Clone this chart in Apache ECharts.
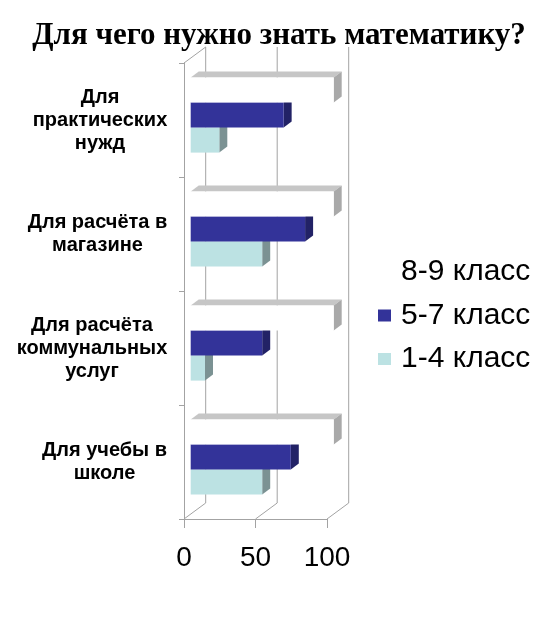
<!DOCTYPE html>
<html>
<head>
<meta charset="utf-8">
<script src="https://cdn.jsdelivr.net/npm/echarts@6/dist/echarts.min.js"></script>
<style>html,body{margin:0;padding:0;background:#fff}#c{width:558px;height:626px}</style>
</head>
<body>
<div id="c"></div>
<script>
// ---- data ----
const titleText = 'Для чего нужно знать математику?';
const categories = ['Для\nпрактических\nнужд', 'Для расчёта в\nмагазине', 'Для расчёта\nкоммунальных\nуслуг', 'Для учебы в\nшколе'];
const seriesNames = ['8-9 класс', '5-7 класс', '1-4 класс'];
const grade89 = [100, 100, 100, 100];
const grade57 = [65, 80, 50, 70];
const grade14 = [20, 50, 10, 50];
const xTicks = [0, 50, 100];

// ---- 3D look ----
const FX = 6.7, FY = -4.9;   // bar front plane offset
const DX = 8, DY = -6;       // bar depth
const WX = 21.7, WY = -16;   // back wall offset
const LINE = '#a3a3a3';
const CAT_FONT = 20, CAT_LH = 23;

const faces = {
  '8-9 класс': { front: '#ffffff', top: '#c6c6c6', side: '#a9a9a9' },
  '5-7 класс': { front: '#333399', top: '#4a4aa8', side: '#222266' },
  '1-4 класс': { front: '#bce2e3', top: '#d3eeee', side: '#7b9293' }
};

// category label blocks: lines centred inside a block whose right edge sits near the axis
const ctx = document.createElement('canvas').getContext('2d');
ctx.font = 'bold ' + CAT_FONT + 'px "Liberation Sans"';
const rich = {};
categories.forEach(function (c, i) {
  const w = Math.ceil(Math.max.apply(null, c.split('\n').map(function (s) { return ctx.measureText(s).width; })));
  rich['c' + i] = { width: w, align: 'center', fontFamily: 'Liberation Sans', fontWeight: 'bold', fontSize: CAT_FONT, lineHeight: CAT_LH, color: '#000' };
});

function barRenderer(slot, name) {
  const f = faces[name];
  return function (params, api) {
    const v = api.value(0), c = api.value(1);
    const p0 = api.coord([0, c]), p1 = api.coord([v, c]);
    const band = api.size([0, 1])[1];
    const t = band * 25 / 114;
    const y0 = p0[1] + FY + (slot - 1.5) * t, y1 = y0 + t;
    const x0 = p0[0] + FX, x1 = p1[0] + FX;
    return {
      type: 'group',
      children: [
        { type: 'polygon', shape: { points: [[x0, y0], [x0 + DX, y0 + DY], [x1 + DX, y0 + DY], [x1, y0]] }, style: { fill: f.top } },
        { type: 'polygon', shape: { points: [[x1, y0], [x1 + DX, y0 + DY], [x1 + DX, y1 + DY], [x1, y1]] }, style: { fill: f.side } },
        { type: 'rect', shape: { x: x0, y: y0, width: x1 - x0, height: t }, style: { fill: f.front } }
      ]
    };
  };
}

function frameRenderer(params, api) {
  const cs = params.coordSys;
  const top = cs.y, bottom = cs.y + cs.height, left = cs.x;
  const children = [];
  const ls = { stroke: LINE, lineWidth: 1, fill: null };
  xTicks.forEach(function (v) {
    const x = api.coord([v, 0])[0];
    children.push({ type: 'line', shape: { x1: x + WX, y1: top + WY, x2: x + WX, y2: bottom + WY }, style: ls });
    children.push({ type: 'line', shape: { x1: x, y1: bottom, x2: x + WX, y2: bottom + WY }, style: ls });
  });
  children.push({ type: 'line', shape: { x1: left, y1: top, x2: left + WX, y2: top + WY }, style: ls });
  return { type: 'group', children: children };
}

const chart = echarts.init(document.getElementById('c'), null, { renderer: 'canvas' });
chart.setOption({
  backgroundColor: '#fff',
  animation: false,
  title: {
    text: titleText, left: 'center', top: 15,
    textStyle: { fontFamily: 'Liberation Serif', fontWeight: 'bold', fontSize: 31, color: '#000' }
  },
  legend: {
    orient: 'vertical', left: 373, top: 252, icon: 'rect',
    itemWidth: 13, itemHeight: 12, itemGap: 13.5,
    data: seriesNames,
    textStyle: { fontFamily: 'Liberation Sans', fontSize: 30, color: '#000', lineHeight: 30, padding: [0, 0, 0, 5] }
  },
  grid: { left: 184, right: 231, top: 63, bottom: 107 },
  xAxis: {
    type: 'value', min: 0, max: 100, interval: 50,
    axisLine: { show: true, lineStyle: { color: LINE } },
    axisTick: { show: true, length: 9, lineStyle: { color: LINE } },
    splitLine: { show: false },
    axisLabel: { margin: 25, fontFamily: 'Liberation Sans', fontSize: 28, color: '#000' }
  },
  yAxis: {
    type: 'category', data: categories, inverse: true,
    axisLine: { show: true, lineStyle: { color: LINE } },
    axisTick: { show: true, length: 5, lineStyle: { color: LINE } },
    axisLabel: {
      align: 'right', margin: 16.5, rich: rich,
      formatter: function (value, index) {
        return value.split('\n').map(function (l) { return '{c' + index + '|' + l + '}'; }).join('\n');
      }
    }
  },
  series: [
    { type: 'custom', name: 'frame', renderItem: frameRenderer, data: [[0, 0]], encode: { x: 0, y: 1 }, silent: true, z: 1 },
    { type: 'custom', name: seriesNames[2], itemStyle: { color: faces[seriesNames[2]].front }, renderItem: barRenderer(2, seriesNames[2]), data: grade14.map((v, i) => [v, i]), encode: { x: 0, y: 1 }, z: 2 },
    { type: 'custom', name: seriesNames[1], itemStyle: { color: faces[seriesNames[1]].front }, renderItem: barRenderer(1, seriesNames[1]), data: grade57.map((v, i) => [v, i]), encode: { x: 0, y: 1 }, z: 3 },
    { type: 'custom', name: seriesNames[0], itemStyle: { color: faces[seriesNames[0]].front }, renderItem: barRenderer(0, seriesNames[0]), data: grade89.map((v, i) => [v, i]), encode: { x: 0, y: 1 }, z: 4 }
  ]
});
</script>
</body>
</html>
